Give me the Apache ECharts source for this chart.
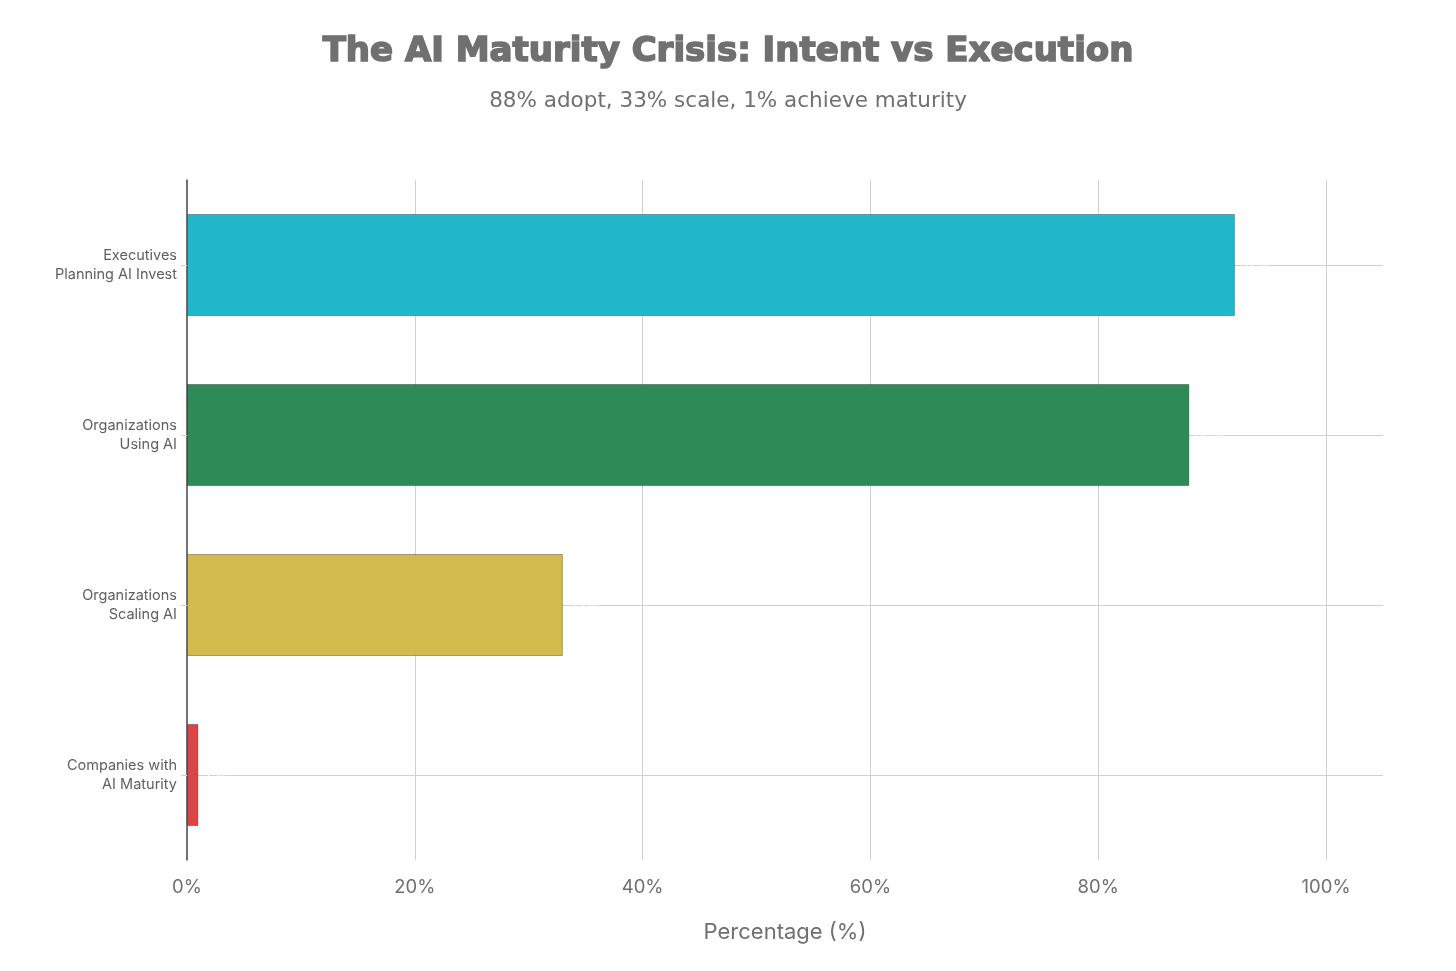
<!DOCTYPE html>
<html>
<head>
<meta charset="utf-8">
<script src="https://cdn.jsdelivr.net/npm/echarts@6/dist/echarts.min.js"></script>
<style>html,body{margin:0;padding:0;background:#fff}#c{width:1456px;height:971px}</style>
</head>
<body>
<div id="c"></div>
<script>
const categories = ["Executives\nPlanning AI Invest", "Organizations\nUsing AI", "Organizations\nScaling AI", "Companies with\nAI Maturity"];
const values = [92, 88, 33, 1];
const colors = ["#21B8CC", "#2E8B57", "#D2BA4C", "#DB4545"];
const xTicks = [0, 20, 40, 60, 80, 100];

const chart = echarts.init(document.getElementById('c'));
chart.setOption({
  backgroundColor: '#fff',
  animation: false,
  title: {
    text: 'The AI Maturity Crisis: Intent vs Execution',
    subtext: '88% adopt, 33% scale, 1% achieve maturity',
    left: 'center',
    top: 30,
    itemGap: 20,
    textStyle: { fontFamily: 'DejaVu Sans', fontWeight: 'bold', fontSize: 34, color: '#707070',
      textBorderColor: '#707070', textBorderWidth: 1.6 },
    subtextStyle: { fontFamily: 'DejaVu Sans', fontSize: 21.5, color: '#707070' }
  },
  grid: { left: 187, right: 73, top: 180, bottom: 111, containLabel: false },
  xAxis: {
    type: 'value', min: 0, max: 105, interval: 20,
    name: 'Percentage (%)', nameLocation: 'middle', nameGap: 61,
    nameTextStyle: { fontFamily: 'Inter, sans-serif', fontSize: 22, color: '#707070' },
    axisLine: { show: false }, axisTick: { show: false },
    axisLabel: { showMaxLabel: false, fontFamily: 'Inter, sans-serif', fontSize: 18.5, color: '#707070', margin: 18,
      formatter: v => xTicks.includes(v) ? v + '%' : '' },
    splitLine: { show: true, showMinLine: false, showMaxLine: false, lineStyle: { color: '#d0d0d0', width: 1 } }
  },
  yAxis: {
    type: 'category', data: categories, inverse: true,
    axisLine: { show: true, onZero: false, lineStyle: { color: '#444', width: 1.5 } },
    axisTick: { show: true, alignWithLabel: true, length: 6, lineStyle: { color: '#d0d0d0' } },
    axisLabel: { fontFamily: 'Inter, sans-serif', fontSize: 14.5, color: '#606060', lineHeight: 19, margin: 10 },
    splitLine: { show: false }
  },
  series: [{
    type: 'bar',
    data: values.map((v, i) => ({ value: v, itemStyle: { color: colors[i] } })),
    barWidth: '60%',
    z: 2,
    itemStyle: { borderColor: 'rgba(0,0,0,0.3)', borderWidth: 1 },
    label: { show: true, position: 'right', color: '#fff', fontSize: 14, formatter: '{c}%', distance: 6 },
    markLine: {
      silent: true, symbol: 'none', z: 1,
      label: { show: false },
      lineStyle: { color: '#d0d0d0', type: 'solid', width: 1 },
      data: categories.map(c => ({ yAxis: c }))
    }
  }]
});
</script>
</body>
</html>
